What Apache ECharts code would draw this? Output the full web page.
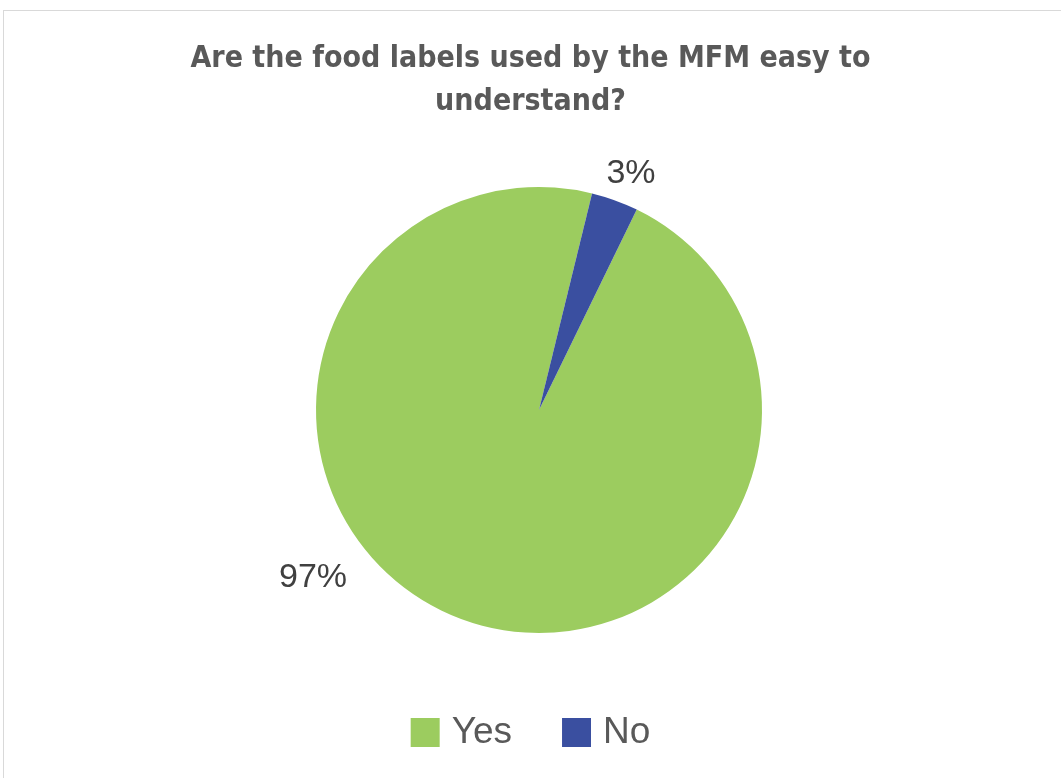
<!DOCTYPE html>
<html>
<head>
<meta charset="utf-8">
<script src="https://cdn.jsdelivr.net/npm/echarts@6/dist/echarts.min.js"></script>
<style>
  html, body { margin: 0; padding: 0; background: #fff; }
  #frame {
    position: absolute; left: 3px; top: 10px; width: 1060px; height: 780px;
    border: 1px solid #d9d9d9; box-sizing: border-box;
  }
  #chart { position: absolute; left: 0; top: 0; width: 1061px; height: 778px; }
</style>
</head>
<body>
<div id="frame"></div>
<div id="chart"></div>
<script>
const categories = ['Yes', 'No']
const shares = [96.6, 3.4]
const colors = ['#9ccc5f', '#3a4fa0']
const titleText = 'Are the food labels used by the MFM easy to\nunderstand?'

const chart = echarts.init(document.getElementById('chart'))

// label spots picked to match the original placement
const labelSpots = [
  { x: 313, y: 578 },
  { x: 631, y: 174 }
]

chart.setOption({
  animation: false,
  title: {
    text: titleText,
    left: 'center',
    top: 33,
    textStyle: {
      fontFamily: '"Liberation Sans Narrow", "DejaVu Sans Condensed", sans-serif',
      fontWeight: 'bold',
      fontSize: 30,
      lineHeight: 43,
      color: '#595959'
    }
  },
  legend: {
    bottom: 22,
    left: 'center',
    itemWidth: 29,
    itemHeight: 29,
    itemGap: 50,
    icon: 'rect',
    textStyle: {
      fontFamily: '"Liberation Sans", sans-serif',
      fontSize: 37,
      color: '#595959',
      padding: [0, 0, 0, 7]
    },
    data: categories
  },
  series: [
    {
      type: 'pie',
      center: [539, 410],
      radius: 223,
      startAngle: 64,
      clockwise: true,
      color: colors,
      label: {
        show: true,
        position: 'outside',
        fontFamily: '"Liberation Sans", sans-serif',
        fontSize: 34,
        color: '#404040',
        formatter: p => Math.round(p.value) + '%'
      },
      labelLine: { show: false },
      labelLayout: p => ({
        x: labelSpots[p.dataIndex].x,
        y: labelSpots[p.dataIndex].y,
        align: 'center',
        verticalAlign: 'middle'
      }),
      emphasis: { disabled: true },
      data: categories.map((name, i) => ({ name, value: shares[i] }))
    }
  ]
})
</script>
</body>
</html>
